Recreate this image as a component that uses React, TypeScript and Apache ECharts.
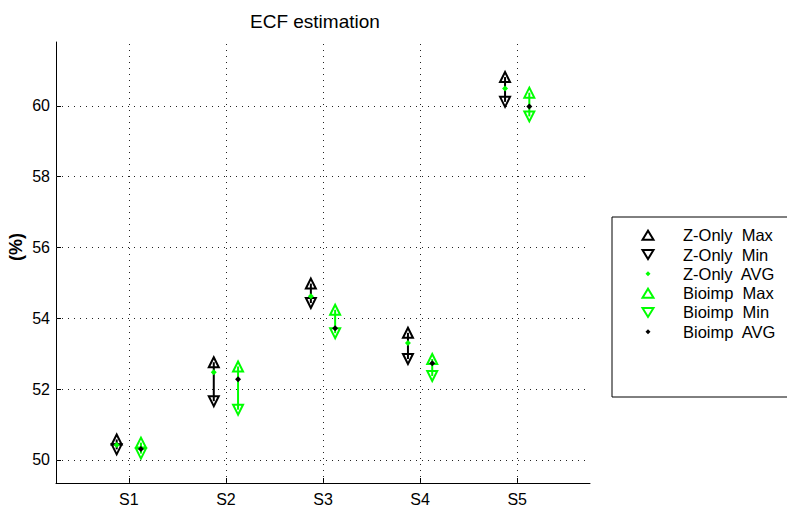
import React, { useEffect, useRef } from "react";
import * as echarts from "echarts";

const categories = ["S1", "S2", "S3", "S4", "S5"];
const zOnlyMax = [50.58, 52.76, 54.98, 53.59, 60.81];
const zOnlyMin = [50.3, 51.66, 54.43, 52.85, 60.11];
const zOnlyAvg = [50.42, 52.48, 54.62, 53.3, 60.49];
const bioMax = [50.49, 52.64, 54.24, 52.85, 60.37];
const bioMin = [50.18, 51.42, 53.58, 52.37, 59.7];
const bioAvg = [50.31, 52.28, 53.72, 52.73, 59.98];
const yTicks = [50, 52, 54, 56, 58, 60];
const seriesNames = [
  "Z-Only  Max",
  "Z-Only  Min",
  "Z-Only  AVG",
  "Bioimp  Max",
  "Bioimp  Min",
  "Bioimp  AVG",
];

const FONT = "Liberation Sans, Arial, Helvetica, sans-serif";
const GREEN = "#00ff00";
const OFFSET = 0.125;
// legend icons drawn in a 60x11 box (matches itemWidth x itemHeight)
const UP_ICON = "path://M0,0M60,11M24.5,10L30,1L35.5,10Z";
const DOWN_ICON = "path://M0,0M60,11M24.5,1L30,10L35.5,1Z";
const DOT_ICON = "path://M0,0M60,11M30,3L32.5,5.5L30,8L27.5,5.5Z";

export default function App() {
  const ref = useRef<HTMLDivElement>(null);
  useEffect(() => {
    if (!ref.current) return;
    const chart = echarts.init(ref.current, undefined, { renderer: "svg" });
    const xs = categories.map((_, i) => i + 1);
    const pts = (vals: number[], off: number) => vals.map((v, i) => [xs[i] + off, v]);
    const bars = (lo: number[], hi: number[], off: number) =>
      lo.map((v, i) => [xs[i] + off, v, hi[i]]);
    const renderBar = (color: string) => (params: any, api: any) => {
      const x = api.value(0);
      const p1 = api.coord([x, api.value(1)]);
      const p2 = api.coord([x, api.value(2)]);
      return {
        type: "line",
        shape: { x1: p1[0], y1: p1[1], x2: p2[0], y2: p2[1] },
        style: { stroke: color, lineWidth: 2 },
      };
    };
    const grid = { type: [1, 5] as any, color: "#222", width: 1 };
    const tri = (name: string, data: any, color: string, rot: number) => ({
      type: "scatter",
      name,
      data,
      symbol: "triangle",
      symbolSize: 10,
      symbolRotate: rot,
      z: 4,
      itemStyle: { color: "rgba(0,0,0,0)", borderColor: color, borderWidth: 2, opacity: 1 },
    });
    const dot = (name: string, data: any, color: string) => ({
      type: "scatter",
      name,
      data,
      symbol: "diamond",
      symbolSize: 6,
      z: 5,
      itemStyle: { color, borderWidth: 0, opacity: 1 },
    });
    chart.setOption({
      animation: false,
      backgroundColor: "#fff",
      title: {
        text: "ECF estimation",
        left: 245,
        top: 7,
        textStyle: { fontFamily: FONT, fontSize: 19, fontWeight: "normal", color: "#000" },
      },
      grid: { left: 56, top: 42, right: 197, bottom: 25 },
      legend: {
        orient: "vertical",
        left: 612,
        top: 217,
        padding: [9.75, 60, 56.75, 5],
        itemWidth: 60,
        itemHeight: 11,
        itemGap: 2.3,
        symbolKeepAspect: false,
        borderColor: "#000",
        borderWidth: 1,
        borderRadius: 0,
        backgroundColor: "#fff",
        selectedMode: false,
        textStyle: { fontFamily: FONT, fontSize: 16.5, color: "#000", lineHeight: 16.5 },
        data: [
          { name: seriesNames[0], icon: UP_ICON },
          { name: seriesNames[1], icon: DOWN_ICON },
          { name: seriesNames[2], icon: DOT_ICON },
          { name: seriesNames[3], icon: UP_ICON },
          { name: seriesNames[4], icon: DOWN_ICON },
          { name: seriesNames[5], icon: DOT_ICON },
        ],
      },
      xAxis: {
        type: "value",
        min: 0.25,
        max: 5.75,
        splitLine: { show: false },
        axisLine: { lineStyle: { color: "#000", width: 1 } },
        axisTick: { inside: true, length: 5, customValues: xs, lineStyle: { color: "#000" } },
        axisLabel: {
          customValues: xs,
          margin: 8,
          fontFamily: FONT,
          fontSize: 16,
          color: "#000",
          formatter: (v: number) => categories[Math.round(v) - 1] ?? "",
        },
      },
      yAxis: {
        type: "value",
        min: 49.35,
        max: 61.8,
        splitLine: { show: false },
        axisLine: { show: true, lineStyle: { color: "#000", width: 1 } },
        axisTick: { show: true, inside: true, length: 5, customValues: yTicks, lineStyle: { color: "#000" } },
        axisLabel: {
          customValues: yTicks,
          margin: 6,
          fontFamily: FONT,
          fontSize: 16,
          color: "#000",
        },
      },
      graphic: [
        {
          type: "text",
          x: 16,
          y: 247,
          rotation: Math.PI / 2,
          style: {
            text: "(%)",
            font: `bold 18px ${FONT}`,
            fill: "#000",
            align: "center",
            verticalAlign: "middle",
          },
        },
      ],
      series: [
        {
          type: "scatter",
          name: "grid",
          data: [],
          z: 1,
          silent: true,
          markLine: {
            silent: true,
            symbol: ["none", "none"],
            label: { show: false },
            lineStyle: grid,
            emphasis: { disabled: true },
            data: [
              ...yTicks.map((v) => ({ yAxis: v })),
              ...xs.map((v) => ({ xAxis: v })),
            ],
          },
        },
        {
          type: "custom",
          name: "zbar",
          renderItem: renderBar("#000"),
          data: bars(zOnlyMin, zOnlyMax, -OFFSET),
          encode: { x: 0, y: [1, 2] },
          z: 3,
          silent: true,
        },
        {
          type: "custom",
          name: "bbar",
          renderItem: renderBar(GREEN),
          data: bars(bioMin, bioMax, OFFSET),
          encode: { x: 0, y: [1, 2] },
          z: 3,
          silent: true,
        },
        tri(seriesNames[0], pts(zOnlyMax, -OFFSET), "#000", 0),
        tri(seriesNames[1], pts(zOnlyMin, -OFFSET), "#000", 180),
        dot(seriesNames[2], pts(zOnlyAvg, -OFFSET), GREEN),
        tri(seriesNames[3], pts(bioMax, OFFSET), GREEN, 0),
        tri(seriesNames[4], pts(bioMin, OFFSET), GREEN, 180),
        dot(seriesNames[5], pts(bioAvg, OFFSET), "#000"),
      ],
    });
    return () => chart.dispose();
  }, []);
  return (
    <div
      ref={ref}
      style={{ position: "fixed", left: 0, top: 0, width: 787, height: 508 }}
    />
  );
}
